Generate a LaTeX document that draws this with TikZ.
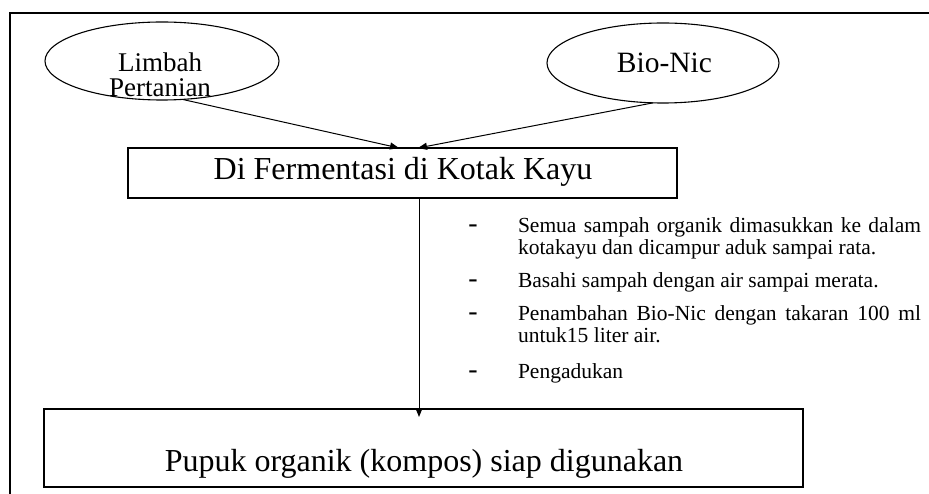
\documentclass[tikz,border=0pt]{standalone}
\usepackage{fontspec}
\setmainfont{Liberation Serif}
\usetikzlibrary{arrows.meta,shapes.geometric}
\begin{document}
\begin{tikzpicture}[x=1pt,y=-1pt,
  every node/.style={inner sep=0pt, outer sep=0pt},
  ell/.style={draw, ellipse, line width=1.1pt},
  boxs/.style={draw, rectangle, line width=1.2pt},
  arr/.style={line width=1pt, -{Triangle[length=9pt,width=7pt]}},
  bul/.style={anchor=base west, font=\fontsize{21.5}{22}\selectfont},
  dsh/.style={anchor=base, font=\fontsize{28}{28}\selectfont},
]
\useasboundingbox (0,0) rectangle (929,494);
\begin{scope}
  \clip (0,0) rectangle (929,494);
  \draw[line width=1.8pt] (10,13) rectangle (960,520);
\end{scope}

% ellipses
\node[ell, minimum width=234pt, minimum height=78pt] (limbah) at (162,61) {};
\node[anchor=north, font=\fontsize{27}{25}\selectfont, align=center] (limbahtxt) at (160,53) {Limbah\\Pertanian};
\node[ell, minimum width=232pt, minimum height=80pt] (bionic) at (663,63) {};
\node[anchor=base, font=\fontsize{29.5}{30}\selectfont] (bionictxt) at (664.5,73) {Bio-Nic};

% boxes
\node[boxs, minimum width=549pt, minimum height=50pt] (mid) at (402.5,173) {};
\node[anchor=base, font=\fontsize{32}{34}\selectfont] (midtxt) at (403,180) {Di Fermentasi di Kotak Kayu};
\node[boxs, minimum width=759pt, minimum height=78pt] (bot) at (423.5,448) {};
\node[anchor=base, font=\fontsize{32}{34}\selectfont] (bottxt) at (424,471) {Pupuk organik (kompos) siap digunakan};

% connectors
\draw[arr] (limbah.-62) -- ([xshift=-3.5pt]mid.north);
\draw[arr] (bionic.-104) -- ([xshift=15.5pt]mid.north);
\draw[arr] ([xshift=16.5pt]mid.south) -- ([xshift=-4.5pt,yshift=-8pt]bot.north);

% bullet list
\node[dsh] (d1) at (473,233) {-};
\node[bul] (t1a) at (518,233) {\makebox[403pt][s]{Semua sampah organik dimasukkan ke dalam}};
\node[bul] (t1b) at (518,255) {kotakayu dan dicampur aduk sampai rata.};
\node[dsh] (d2) at (473,288) {-};
\node[bul] (t2) at (518,288) {Basahi sampah dengan air sampai merata.};
\node[dsh] (d3) at (473,320) {-};
\node[bul] (t3a) at (518,320) {\makebox[403pt][s]{Penambahan Bio-Nic dengan takaran 100 ml}};
\node[bul] (t3b) at (518,342) {untuk15 liter air.};
\node[dsh] (d4) at (473,378) {-};
\node[bul] (t4) at (518,378) {Pengadukan};
\end{tikzpicture}
\end{document}
